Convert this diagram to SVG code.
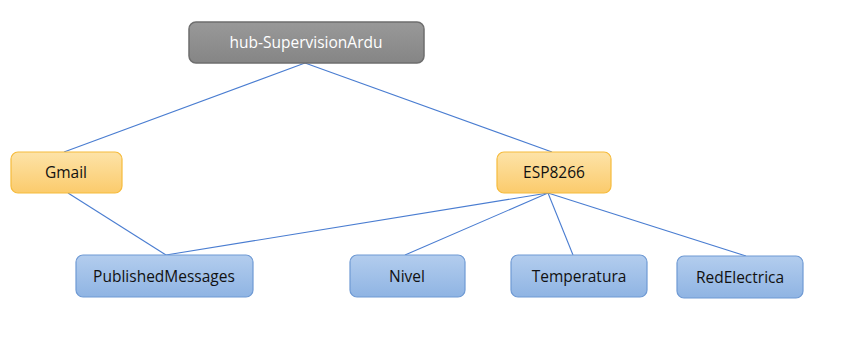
<svg xmlns="http://www.w3.org/2000/svg" width="849" height="347" viewBox="0 0 849 347">
<defs>
<linearGradient id="gGray" x1="0" y1="0" x2="0" y2="1"><stop offset="0" stop-color="#999999"/><stop offset="1" stop-color="#858585"/></linearGradient>
<linearGradient id="gOrange" x1="0" y1="0" x2="0" y2="1"><stop offset="0" stop-color="#fde3a8"/><stop offset="1" stop-color="#fbcb6c"/></linearGradient>
<linearGradient id="gBlue" x1="0" y1="0" x2="0" y2="1"><stop offset="0" stop-color="#b3cdee"/><stop offset="1" stop-color="#8fb4e3"/></linearGradient>
</defs>
<style>
.gray{fill:url(#gGray);stroke:#6e6e6e;stroke-width:1.5}
.orange{fill:url(#gOrange);stroke:#f6bb3c;stroke-width:1.2}
.blue{fill:url(#gBlue);stroke:#6f9ad4;stroke-width:1.2}
.t{font-family:"Open Sans","Liberation Sans",sans-serif;font-size:15.5px;text-anchor:middle;dominant-baseline:central;fill:#111}
.tw{fill:#ffffff}
.c{stroke:#4a7dd1;stroke-width:1.1;fill:none}
</style>
<rect width="849" height="347" fill="#ffffff"/>
<g id="connectors">
<line class="c" x1="305" y1="63" x2="64" y2="152"/>
<line class="c" x1="305" y1="63" x2="552" y2="152"/>
<line class="c" x1="68" y1="193" x2="166" y2="255"/>
<line class="c" x1="548" y1="193" x2="166" y2="255"/>
<line class="c" x1="548" y1="193" x2="405" y2="255"/>
<line class="c" x1="548" y1="193" x2="573" y2="255"/>
<line class="c" x1="548" y1="193" x2="746" y2="256"/>
</g>
<g id="hub"><rect class="gray" x="189" y="22" width="235" height="41" rx="7"/><text class="t tw" x="306" y="42">hub-SupervisionArdu</text></g>
<g id="gmail"><rect class="orange" x="11" y="152" width="111" height="41" rx="7"/><text class="t" x="66" y="172">Gmail</text></g>
<g id="esp8266"><rect class="orange" x="497" y="152" width="114" height="41" rx="7"/><text class="t" x="554" y="172">ESP8266</text></g>
<g id="published"><rect class="blue" x="76" y="255" width="177" height="42" rx="7"/><text class="t" x="164" y="276">PublishedMessages</text></g>
<g id="nivel"><rect class="blue" x="350" y="255" width="115" height="42" rx="7"/><text class="t" x="407" y="276">Nivel</text></g>
<g id="temperatura"><rect class="blue" x="511" y="255" width="136" height="42" rx="7"/><text class="t" x="579" y="276">Temperatura</text></g>
<g id="redelectrica"><rect class="blue" x="677" y="256" width="126" height="42" rx="7"/><text class="t" x="740" y="277">RedElectrica</text></g>
</svg>
